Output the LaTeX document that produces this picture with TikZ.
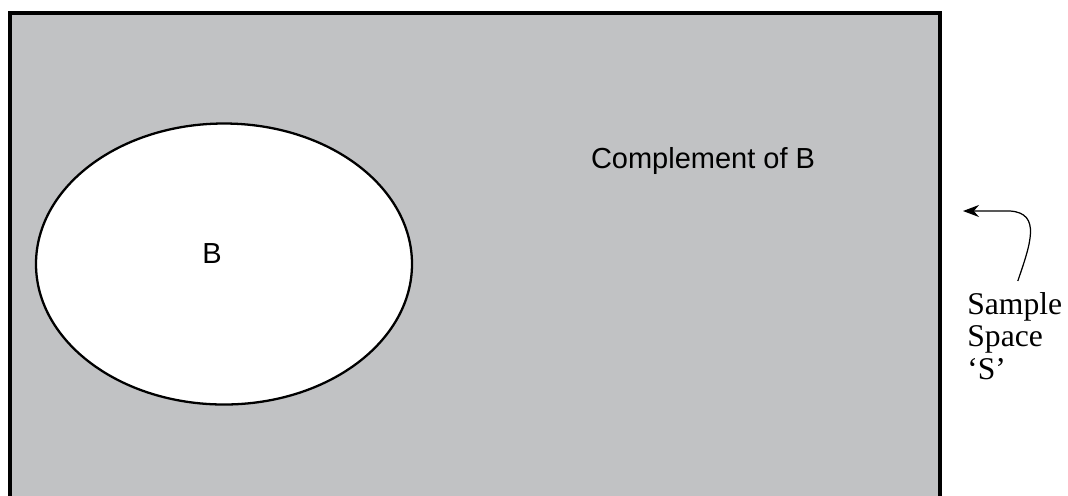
\documentclass[tikz,border=0pt]{standalone}
\usepackage{fontspec}
\setmainfont{Liberation Serif}
\setsansfont{Liberation Sans}
\usetikzlibrary{arrows.meta,shapes.geometric}
\definecolor{spacegray}{HTML}{C1C2C4}

\begin{document}
\begin{tikzpicture}[x=0.2mm,y=-0.2mm,font=\sffamily\fontsize{16.5}{19}\selectfont,
region/.style={draw,line width=2pt,fill=spacegray,minimum width=186mm,minimum height=102mm,inner sep=0pt},
event/.style={ellipse,draw,line width=1.3pt,fill=white,minimum width=75.2mm,minimum height=56.2mm,inner sep=0pt},
note/.style={font=\rmfamily\fontsize{18}{18.6}\selectfont,align=left,inner sep=0pt},
arr/.style={-{Stealth[length=3.2mm,width=2.4mm]},line width=.7pt}]
\useasboundingbox (0,0) rectangle (1068,495);
\clip (0,0) rectangle (1068,495);
\node[region,anchor=north west](S) at (8,11){};
\node[event](B) at (224,264){};
\node(Blbl) at (212,254){B};
\node(comp) at (703,161){Complement of B};
\node[note,anchor=north west](lbl) at (967,292){Sample\\Space\\`S'};
\coordinate(tip) at (963,211);
\draw[arr]([shift={(3,-11)}]lbl.north) .. controls (1030,245) and (1042,213) .. (1010,211) -- (tip);
\end{tikzpicture}
\end{document}
